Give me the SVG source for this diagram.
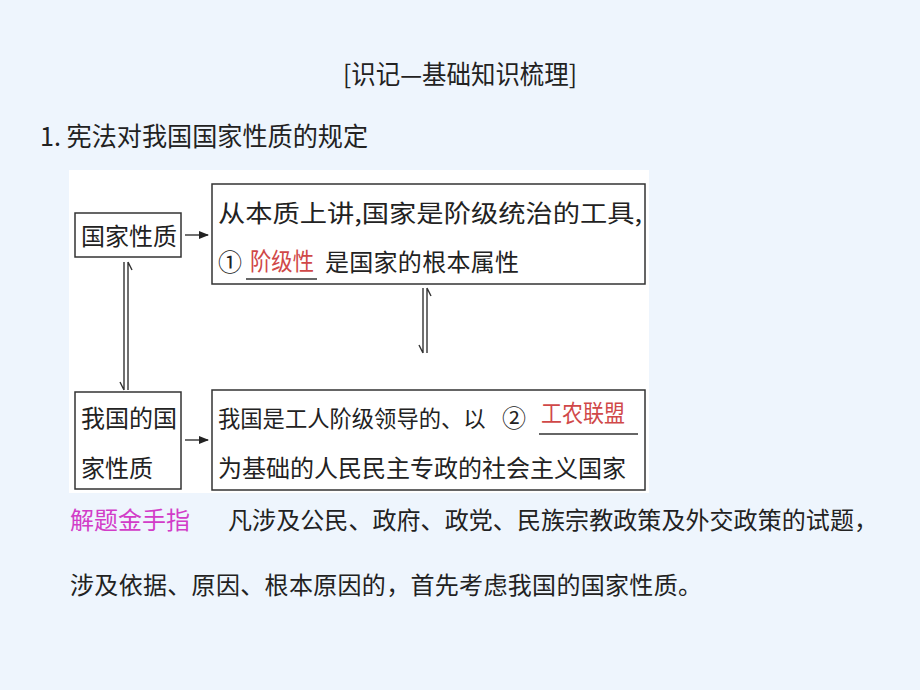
<svg xmlns="http://www.w3.org/2000/svg" width="920" height="690" viewBox="0 0 920 690">
<style>
text{font-family:"Noto Sans CJK SC","Liberation Sans",sans-serif;fill:#222}
.t24{font-size:24px}
.red{fill:#d04848}
.box{fill:#fff;stroke:#333;stroke-width:1.5}
.ln{stroke:#333;stroke-width:1.4;fill:none}
.ul{stroke:#333;stroke-width:1.6}
.mag{fill:#d23cc8}
</style>
<defs>
<marker id="ah" markerWidth="10" markerHeight="8" refX="9" refY="4" orient="auto" markerUnits="userSpaceOnUse">
<path d="M0,0 L10,4 L0,8 Z" fill="#222"/>
</marker>
</defs>
<rect width="920" height="690" fill="#eef5fd"/>
<rect x="69" y="170" width="580" height="323" fill="#fff"/>
<text x="460" y="84" text-anchor="middle" font-size="26" textLength="234" lengthAdjust="spacingAndGlyphs">[识记—基础知识梳理]</text>
<text x="40" y="146" font-size="26" textLength="328" lengthAdjust="spacingAndGlyphs">1. 宪法对我国国家性质的规定</text>

<g id="node-guojiaxingzhi">
<rect class="box" x="75" y="213" width="106" height="44"/>
<text class="t24" x="81" y="245" textLength="96" lengthAdjust="spacing">国家性质</text>
</g>
<g id="node-benzhi">
<rect class="box" x="212" y="184" width="433" height="100"/>
<text class="t24" x="218" y="222" textLength="424" lengthAdjust="spacingAndGlyphs">从本质上讲,国家是阶级统治的工具,</text>
<text class="t24" x="218" y="271">①</text>
<text class="t24 red" x="250" y="270" textLength="64" lengthAdjust="spacingAndGlyphs">阶级性</text>
<line class="ul" x1="246" y1="279" x2="317" y2="279"/>
<text class="t24" x="325" y="271" textLength="194" lengthAdjust="spacing">是国家的根本属性</text>
</g>
<g id="node-woguo">
<rect class="box" x="75" y="392" width="106" height="97"/>
<text class="t24" x="81" y="427" textLength="96" lengthAdjust="spacing">我国的国</text>
<text class="t24" x="81" y="477" textLength="72" lengthAdjust="spacing">家性质</text>
</g>
<g id="node-gongnong">
<rect class="box" x="212" y="390" width="433" height="100"/>
<text x="218" y="427" font-size="22.3">我国是工人阶级领导的、以</text>
<text class="t24" x="502" y="427">②</text>
<text class="t24 red" x="541" y="422" textLength="84" lengthAdjust="spacingAndGlyphs">工农联盟</text>
<line class="ul" x1="539" y1="434" x2="638" y2="434"/>
<text class="t24" x="218" y="477" textLength="408" lengthAdjust="spacing">为基础的人民民主专政的社会主义国家</text>
</g>

<g id="connectors">
<line class="ln" x1="185" y1="235" x2="208" y2="235" marker-end="url(#ah)"/>
<line class="ln" x1="185" y1="440" x2="208" y2="440" marker-end="url(#ah)"/>
<path class="ln" d="M124,262 V390 M124,390 L120,382"/>
<path class="ln" d="M128,390 V262 M128,262 L132,270"/>
<path class="ln" d="M423,288 V353 M423,353 L419,345"/>
<path class="ln" d="M427,353 V288 M427,288 L431,296"/>
</g>

<text class="mag" x="70" y="529" font-size="24" textLength="120" lengthAdjust="spacing">解题金手指</text>
<text class="t24" x="228" y="529" textLength="650" lengthAdjust="spacing">凡涉及公民、政府、政党、民族宗教政策及外交政策的试题，</text>
<text class="t24" x="70" y="594" textLength="632" lengthAdjust="spacing">涉及依据、原因、根本原因的，首先考虑我国的国家性质。</text>
</svg>
